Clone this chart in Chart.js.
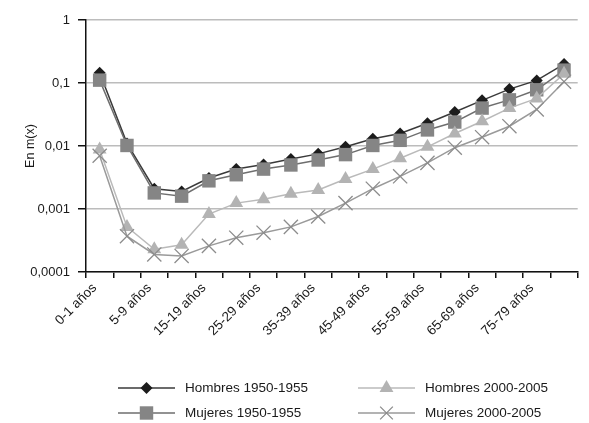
<!DOCTYPE html>
<html>
<head>
<meta charset="utf-8">
<script src="https://cdn.jsdelivr.net/npm/chart.js@4/dist/chart.umd.min.js"></script>
<style>
  html, body { margin: 0; padding: 0; background: #fff; }
  #wrap { width: 589px; height: 423px; position: relative; }
</style>
</head>
<body>
<div id="wrap"><canvas id="c" width="589" height="423"></canvas></div>
<script>
// Age groups (every other one is labelled on the axis)
const categories = ['0-1 años','1-4 años','5-9 años','10-14 años','15-19 años','20-24 años','25-29 años','30-34 años','35-39 años','40-44 años','45-49 años','50-54 años','55-59 años','60-64 años','65-69 años','70-74 años','75-79 años','80 y más años'];

// Central mortality rates m(x)
const hombres1950 = [0.145, 0.011, 0.0021, 0.0019, 0.0031, 0.0043, 0.0051, 0.0062, 0.0075, 0.0097, 0.013, 0.0158, 0.023, 0.0347, 0.053, 0.080, 0.11, 0.20];
const mujeres1950 = [0.111, 0.0102, 0.0018, 0.0016, 0.0028, 0.0035, 0.0043, 0.005, 0.006, 0.0073, 0.0102, 0.0123, 0.018, 0.024, 0.040, 0.054, 0.078, 0.16];
const hombres2000 = [0.0088, 0.00052, 0.00023, 0.00027, 0.00083, 0.00124, 0.00143, 0.00174, 0.002, 0.003, 0.0043, 0.0064, 0.0097, 0.0158, 0.0247, 0.040, 0.057, 0.14];
const mujeres2000 = [0.007, 0.00037, 0.00019, 0.00018, 0.00026, 0.00035, 0.00042, 0.00052, 0.00076, 0.00124, 0.0021, 0.0033, 0.0054, 0.0094, 0.0138, 0.0206, 0.038, 0.105];

// Decade ticks of the log axis and their labels
const yTickValues = [0.0001, 0.001, 0.01, 0.1, 1];
const yTickLabels = ['0,0001', '0,001', '0,01', '0,1', '1'];

const seriesNames = ['Hombres 1950-1955', 'Mujeres 1950-1955', 'Hombres 2000-2005', 'Mujeres 2000-2005'];

const FONT = '"Liberation Sans", Arial, Helvetica, sans-serif';

const styles = [
  { line: '#3a3a3a', fill: '#1c1c1c', stroke: '#1c1c1c', shape: 'rectRot', r: 6, order: 3 },
  { line: '#6e6e6e', fill: '#858585', stroke: '#858585', shape: 'rect', r: 9.5, order: 2 },
  { line: '#bababa', fill: '#b3b3b3', stroke: '#b3b3b3', shape: 'triangle', r: 8, order: 1 },
  { line: '#9a9a9a', fill: 'rgba(0,0,0,0)', stroke: '#8c8c8c', shape: 'crossRot', r: 10, order: 0 }
];
const seriesData = [hombres1950, mujeres1950, hombres2000, mujeres2000];

const datasets = seriesData.map((d, i) => ({
  label: seriesNames[i],
  data: d,
  borderColor: styles[i].line,
  borderWidth: 1.5,
  backgroundColor: styles[i].fill,
  pointStyle: styles[i].shape,
  pointRadius: styles[i].r,
  pointHoverRadius: styles[i].r,
  pointBackgroundColor: styles[i].fill,
  pointBorderColor: styles[i].stroke,
  pointBorderWidth: i === 3 ? 1.3 : 0,
  tension: 0,
  order: styles[i].order,
  clip: false
}));

// Legend drawn as a line sample with the marker in its middle, two columns
function drawMarker(ctx, shape, x, y, r, fill, stroke) {
  ctx.save();
  ctx.beginPath();
  if (shape === 'rectRot') {
    ctx.moveTo(x - r, y); ctx.lineTo(x, y - r); ctx.lineTo(x + r, y); ctx.lineTo(x, y + r); ctx.closePath();
    ctx.fillStyle = fill; ctx.fill();
  } else if (shape === 'rect') {
    const s = r * Math.SQRT1_2;
    ctx.rect(x - s, y - s, 2 * s, 2 * s);
    ctx.fillStyle = fill; ctx.fill();
  } else if (shape === 'triangle') {
    const h = r * 0.866;
    ctx.moveTo(x - h, y + r / 2); ctx.lineTo(x, y - r); ctx.lineTo(x + h, y + r / 2); ctx.closePath();
    ctx.fillStyle = fill; ctx.fill();
  } else if (shape === 'crossRot') {
    const s = r * Math.SQRT1_2;
    ctx.moveTo(x - s, y - s); ctx.lineTo(x + s, y + s);
    ctx.moveTo(x - s, y + s); ctx.lineTo(x + s, y - s);
    ctx.strokeStyle = stroke; ctx.lineWidth = 1.3; ctx.stroke();
  }
  ctx.restore();
}

const legendPlugin = {
  id: 'twoColumnLegend',
  afterDraw(chart) {
    const ctx = chart.ctx;
    const cols = [118, 358];
    const rows = [388, 413];
    // Men in the top row, women in the bottom row
    const slots = [[0, 0], [0, 1], [1, 0], [1, 1]];
    seriesNames.forEach((name, i) => {
      const x0 = cols[slots[i][0]];
      const y = rows[slots[i][1]];
      const st = styles[i];
      ctx.save();
      ctx.beginPath();
      ctx.moveTo(x0, y); ctx.lineTo(x0 + 57, y);
      ctx.strokeStyle = st.line; ctx.lineWidth = 1.5; ctx.stroke();
      ctx.restore();
      drawMarker(ctx, st.shape, x0 + 28.5, y, st.shape === 'rect' ? 9.5 : (st.shape === 'triangle' ? 8 : (st.shape === 'rectRot' ? 6 : 9)), st.fill, st.stroke);
      ctx.save();
      ctx.fillStyle = '#1a1a1a';
      ctx.font = '13.5px ' + FONT;
      ctx.textBaseline = 'middle';
      ctx.textAlign = 'left';
      ctx.fillText(name, x0 + 67, y);
      ctx.restore();
    });
  }
};

new Chart(document.getElementById('c'), {
  type: 'line',
  data: { labels: categories, datasets: datasets },
  options: {
    responsive: false,
    animation: false,
    events: [],
    layout: { padding: { top: 20, right: 2, left: 0, bottom: 0 } },
    plugins: { legend: { display: false }, tooltip: { enabled: false } },
    scales: {
      x: {
        type: 'category',
        offset: true,
        grid: { offset: true, drawOnChartArea: false, drawTicks: true, tickLength: 6, tickColor: '#111', lineWidth: 1.5 },
        border: { display: true, color: '#111', width: 1.5 },
        ticks: {
          autoSkip: false,
          maxRotation: 45,
          minRotation: 45,
          padding: 2,
          labelOffset: -5,
          color: '#1a1a1a',
          font: { family: FONT, size: 13.5 },
          callback: (v, i) => (i % 2 === 0 ? categories[i] : '')
        },
        afterFit: (scale) => { scale.height = 151; }
      },
      y: {
        type: 'logarithmic',
        min: 0.0001,
        max: 1,
        afterBuildTicks: (scale) => { scale.ticks = yTickValues.map(v => ({ value: v })); },
        grid: { color: '#bcbcbc', lineWidth: 1.5, tickColor: '#111', tickLength: 8 },
        border: { display: true, color: '#111', width: 1.5 },
        ticks: {
          padding: 8,
          color: '#1a1a1a',
          font: { family: FONT, size: 13 },
          callback: (v) => yTickLabels[yTickValues.findIndex(t => Math.abs(t - v) / t < 1e-6)]
        },
        title: {
          display: true,
          text: 'En m(x)',
          color: '#1a1a1a',
          font: { family: FONT, size: 12.5 },
          padding: { top: 23, bottom: 0 }
        },
        afterFit: (scale) => { scale.width = 86; }
      }
    }
  },
  plugins: [legendPlugin]
});
</script>
</body>
</html>
